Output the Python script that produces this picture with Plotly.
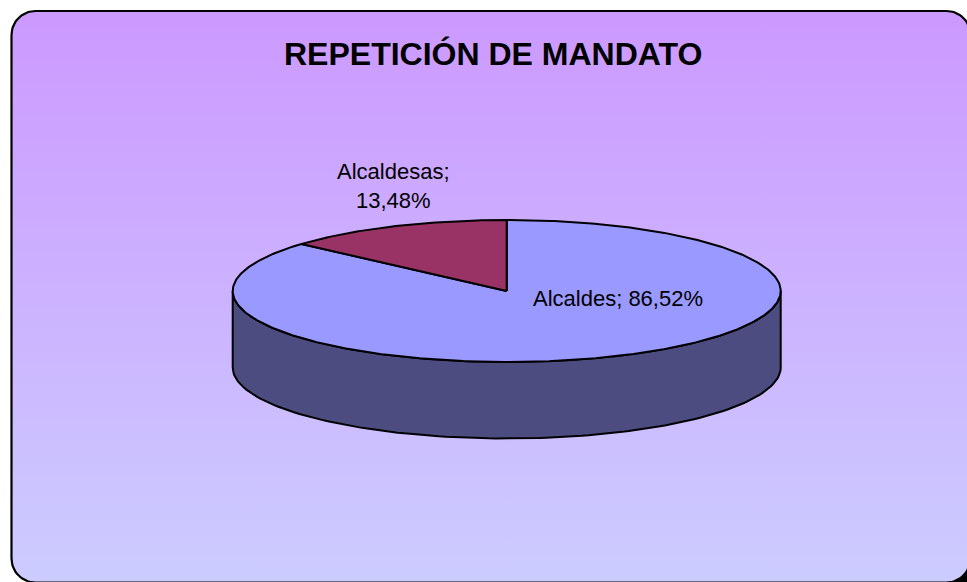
import numpy as np
import plotly.graph_objects as go

# ---- data ----
title_text = "REPETICIÓN DE MANDATO"
categories = ["Alcaldes", "Alcaldesas"]
values = [86.52, 13.48]
top_colors = ["#9999FF", "#993366"]
side_colors = ["#4C4C80", "#4D1A33"]
label_texts = ["Alcaldes; 86,52%", "Alcaldesas;<br>13,48%"]
label_pos = [(617.5, 298), (393, 186)]

W, H = 967, 582
cx, cy, rx, ry, depth = 506.7, 291.0, 274.0, 71.0, 76.5

fig = go.Figure()

# ---- background rounded rectangle with gradient ----
def rounded_rect(x0, y0, x1, y1, r, n=20):
    pts = []
    corners = [(x1 - r, y0 + r, 90, 0), (x1 - r, y1 - r, 0, -90),
               (x0 + r, y1 - r, -90, -180), (x0 + r, y0 + r, 180, 90)]
    for (ccx, ccy, a0, a1) in corners:
        for a in np.linspace(np.radians(a0), np.radians(a1), n):
            pts.append((ccx + r * np.cos(a), ccy - r * np.sin(a)))
    pts.append(pts[0])
    xs, ys = zip(*pts)
    return list(xs), list(ys)

# dark corner patch (bottom right)
fig.add_trace(go.Scatter(x=[930, 975, 975, 930, 930], y=[550, 550, 590, 590, 550],
                         fill="toself", fillcolor="black", line=dict(width=0),
                         mode="lines", hoverinfo="skip", showlegend=False))
bx, by = rounded_rect(11.5, 11, 970.5, 582.5, 24)
fig.add_trace(go.Scatter(
    x=bx, y=by, mode="lines", fill="toself",
    fillgradient=dict(type="vertical", start=11, stop=582,
                      colorscale=[[0, "#CC99FF"], [1, "#CCCCFF"]]),
    line=dict(color="black", width=2.2), hoverinfo="skip", showlegend=False))

# ---- 3D pie ----
total = sum(values)
angles = [90.0]
for v in values:
    angles.append(angles[-1] - 360.0 * v / total)

def ell(a_deg, dy=0.0):
    a = np.radians(a_deg)
    return cx + rx * np.cos(a), cy - ry * np.sin(a) + dy

# side walls (front half: angles in [-180, 0] modulo 360)
for i in range(len(values)):
    a0, a1 = angles[i], angles[i + 1]  # a0 > a1
    for k in (-720, -360, 0, 360):
        lo = max(a1, -180 + k)
        hi = min(a0, 0 + k)
        if hi - lo <= 1e-6:
            continue
        ts = np.linspace(hi, lo, 120)
        top = [ell(t) for t in ts]
        bot = [ell(t, depth) for t in ts[::-1]]
        pts = top + bot + [top[0]]
        xs, ys = zip(*pts)
        fig.add_trace(go.Scatter(x=list(xs), y=list(ys), mode="lines", fill="toself",
                                 fillcolor=side_colors[i],
                                 line=dict(color="black", width=2),
                                 hoverinfo="skip", showlegend=False))

# top faces
for i in range(len(values)):
    a0, a1 = angles[i], angles[i + 1]
    n = max(int(abs(a0 - a1) * 1.5), 10)
    ts = np.linspace(a0, a1, n)
    pts = [(cx, cy)] + [ell(t) for t in ts] + [(cx, cy)]
    xs, ys = zip(*pts)
    fig.add_trace(go.Scatter(x=list(xs), y=list(ys), mode="lines", fill="toself",
                             fillcolor=top_colors[i],
                             line=dict(color="black", width=2),
                             hoverinfo="skip", showlegend=False))

# ---- labels ----
for txt, (lx, ly) in zip(label_texts, label_pos):
    fig.add_annotation(x=lx, y=ly, xref="x", yref="y", text=txt, showarrow=False,
                       font=dict(family="Liberation Sans, Arial", size=22, color="black"),
                       xanchor="center", yanchor="middle", align="center")

fig.add_annotation(x=492.5, y=54, xref="x", yref="y", text="<b>" + title_text + "</b>",
                   showarrow=False,
                   font=dict(family="Liberation Sans, Arial", size=32, color="black"),
                   xanchor="center", yanchor="middle")

fig.update_layout(
    width=W, height=H, margin=dict(l=0, r=0, t=0, b=0),
    paper_bgcolor="white", plot_bgcolor="rgba(0,0,0,0)",
    xaxis=dict(range=[0, W], visible=False, fixedrange=True),
    yaxis=dict(range=[H, 0], visible=False, fixedrange=True),
    showlegend=False,
)

fig.write_html(
    "out.html",
    config={"displayModeBar": False, "responsive": False},
    post_script="document.body.style.margin='0';document.body.style.overflow='hidden';",
)
